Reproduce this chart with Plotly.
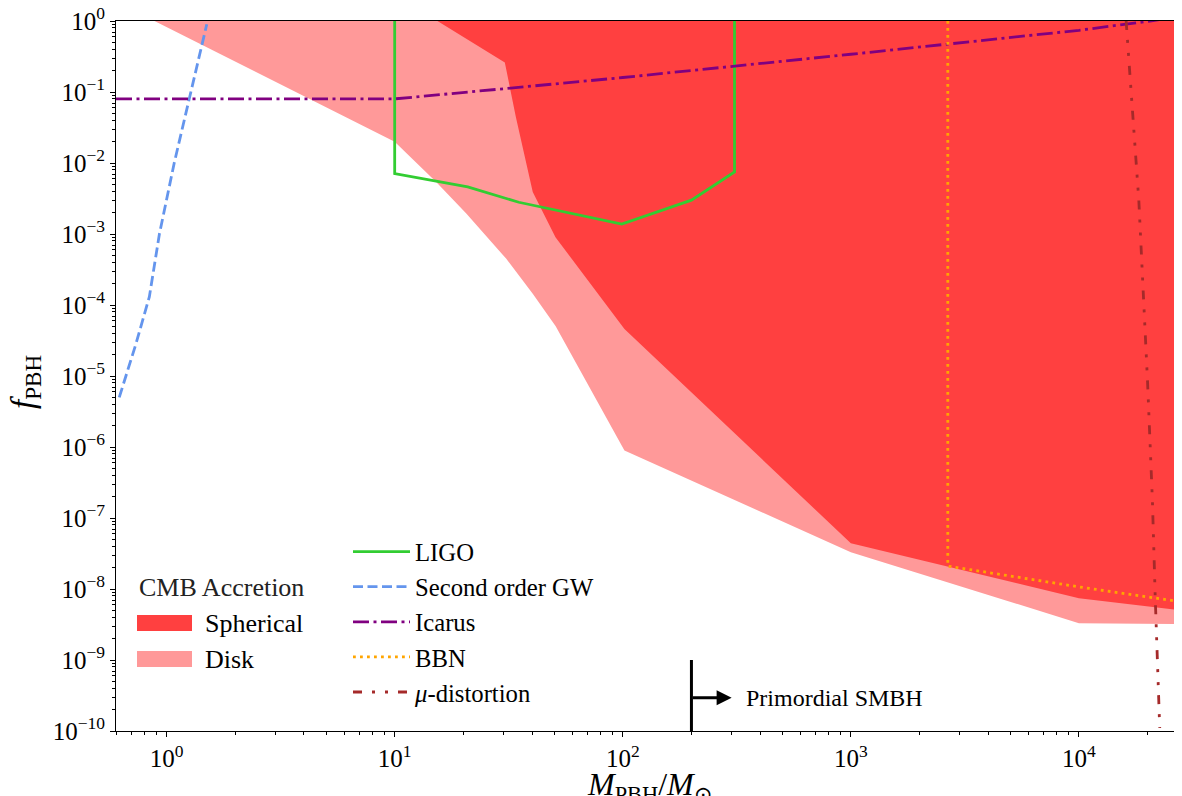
import numpy as np
import plotly.graph_objects as go

# ---------------- data ----------------
# CMB accretion, disk: lower edge of excluded region (upper edge is f=1)
disk_m = [0.885, 10, 15.2, 20.6, 30.8, 40.3, 50.8, 101.7, 1000, 1e4, 3e4]
disk_f = [1.0, 0.02, 5.4e-3, 1.94e-3, 4.5e-4, 1.44e-4, 5.0e-5, 8.9e-7, 3.3e-8, 3.3e-9, 3.2e-9]

# CMB accretion, spherical: lower edge of excluded region
sph_m = [15.4, 30.4, 34.0, 40.3, 50.7, 101.7, 1000, 1e4, 3e4]
sph_f = [1.0, 0.26, 0.044, 3.9e-3, 9.0e-4, 4.6e-5, 4.4e-8, 7.4e-9, 4.9e-9]

# LIGO
ligo_m = [10, 10, 20.9, 35, 99, 200, 309, 309]
ligo_f = [1.0, 7.1e-3, 4.6e-3, 2.8e-3, 1.38e-3, 3.0e-3, 7.5e-3, 1.0]

# Second order GW
gw_m = [0.62, 0.733, 0.84, 0.93, 1.08, 1.26, 1.5]
gw_f = [5.0e-6, 2.8e-5, 1.3e-4, 1.0e-3, 1.0e-2, 8.0e-2, 0.9]

# Icarus
ica_m = [0.6, 10, 30.8, 100, 1000, 1e4, 2.05e4, 3e4]
ica_f = [0.08, 0.08, 0.112, 0.16, 0.34, 0.74, 1.0, 1.2]

# BBN
bbn_m = [2660, 2660, 1e4, 3e4]
bbn_f = [1.0, 2.1e-8, 1.07e-8, 6.4e-9]

# mu-distortion
mu_m = [1.61e4, 1.83e4, 2.0e4, 2.1e4, 2.16e4, 2.26e4]
mu_f = [1.0, 3e-3, 8e-6, 1.7e-7, 7.6e-9, 1.1e-10]

# Primordial SMBH marker
smbh_m = 200
smbh_arrow_end = 300
smbh_text_m = 340
smbh_bar_f = [1e-10, 1e-9]
smbh_arrow_f = 2.95e-10

# axes
x_range = [0.6, 2.83e4]
y_range = [1e-10, 1.0]
x_tickvals = [1, 10, 100, 1000, 10000]
x_ticktext = ["10<sup>0</sup>", "10<sup>1</sup>", "10<sup>2</sup>", "10<sup>3</sup>", "10<sup>4</sup>"]
y_tickvals = [10.0 ** e for e in range(-10, 1)]
y_ticktext = ["10<sup>\u2212%d</sup>" % (-e) if e < 0 else "10<sup>0</sup>" for e in range(-10, 1)]
x_minor = [s * 10.0 ** e for e in range(-1, 5) for s in range(2, 10)]
y_minor = [s * 10.0 ** e for e in range(-10, 0) for s in range(2, 10)]
x_title = "<i>M</i><sub>PBH</sub>/<i>M</i><sub>\u2299</sub>"
y_title = "<i>f</i><sub>PBH</sub>"

# ---------------- styles ----------------
C_SPH = "#ff4040"
C_DISK = "#ff9999"
FONT = "Liberation Serif"
OFF = 8                      # default page body margin of the html page
W, H = 1182 - OFF, 796 - OFF
L, R, T, B = 116 - OFF, 0, 21 - OFF, 65
PW, PH = W - L - R, H - T - B


def px_x(px):
    """window pixel -> paper x"""
    return (px - OFF - L) / PW


def px_y(py):
    """window pixel -> paper y"""
    return (OFF + H - B - py) / PH


fig = go.Figure()

# filled regions
fig.add_trace(go.Scatter(
    x=disk_m + [disk_m[-1], disk_m[0]], y=disk_f + [1.0, 1.0],
    fill="toself", fillcolor=C_DISK, line=dict(width=0), mode="lines",
    showlegend=False, hoverinfo="skip"))
fig.add_trace(go.Scatter(
    x=sph_m + [sph_m[-1]], y=sph_f + [1.0],
    fill="toself", fillcolor=C_SPH, line=dict(width=0), mode="lines",
    showlegend=False, hoverinfo="skip"))

# constraint curves
LW = 2.8
fig.add_trace(go.Scatter(x=ligo_m, y=ligo_f, mode="lines", name="LIGO",
                         line=dict(color="#32cd32", width=LW)))
fig.add_trace(go.Scatter(x=gw_m, y=gw_f, mode="lines", name="Second order GW",
                         line=dict(color="#6495ed", width=LW, dash="10px,4.5px")))
fig.add_trace(go.Scatter(x=ica_m, y=ica_f, mode="lines", name="Icarus",
                         line=dict(color="#800080", width=LW, dash="16px,4.5px,3px,4.5px")))
fig.add_trace(go.Scatter(x=bbn_m, y=bbn_f, mode="lines", name="BBN",
                         line=dict(color="#ffa500", width=LW, dash="2.8px,4.2px")))
fig.add_trace(go.Scatter(x=mu_m, y=mu_f, mode="lines", name="<i>\u03bc</i>-distortion",
                         line=dict(color="#a52a2a", width=LW,
                                   dash="9px,10px,3px,10px,3px,10px")))

# primordial SMBH bar
fig.add_trace(go.Scatter(x=[smbh_m, smbh_m], y=smbh_bar_f, mode="lines",
                         line=dict(color="black", width=3), showlegend=False,
                         hoverinfo="skip"))

annotations = [
    dict(x=np.log10(smbh_arrow_end), y=np.log10(smbh_arrow_f), xref="x", yref="y",
         ax=np.log10(smbh_m), ay=np.log10(smbh_arrow_f), axref="x", ayref="y",
         text="", showarrow=True, arrowhead=2, arrowsize=1, arrowwidth=3,
         arrowcolor="black", standoff=0, startstandoff=0),
    dict(x=np.log10(smbh_text_m), y=np.log10(smbh_arrow_f), xref="x", yref="y",
         text="Primordial SMBH", showarrow=False, xanchor="left", yanchor="middle",
         font=dict(size=24, family=FONT, color="black")),
    # axis titles
    dict(x=0.5, y=px_y(787), xref="paper", yref="paper", text=x_title,
         showarrow=False, xanchor="center", yanchor="middle",
         font=dict(size=32, family=FONT, color="black")),
    dict(x=px_x(25), y=px_y(382), xref="paper", yref="paper", text=y_title,
         showarrow=False, xanchor="center", yanchor="middle", textangle=-90,
         font=dict(size=33, family=FONT, color="black")),
]

# CMB accretion legend (patch legend)
cmb_items = [("Spherical", C_SPH, 623), ("Disk", C_DISK, 659)]
shapes = []
annotations.append(dict(x=px_x(137), y=px_y(587), xref="paper", yref="paper",
                        text="CMB Accretion", showarrow=False, xanchor="left",
                        yanchor="middle", font=dict(size=26, family=FONT, color="#222")))
for name, col, yc in cmb_items:
    shapes.append(dict(type="rect", xref="paper", yref="paper",
                       x0=px_x(137), x1=px_x(192), y0=px_y(yc - 8), y1=px_y(yc + 8),
                       fillcolor=col, line=dict(width=0)))
    annotations.append(dict(x=px_x(203), y=px_y(yc), xref="paper", yref="paper",
                            text=name, showarrow=False, xanchor="left", yanchor="middle",
                            font=dict(size=26, family=FONT, color="black")))

axis_common = dict(
    type="log", showgrid=False, zeroline=False, showline=True, linecolor="black",
    linewidth=1, ticks="outside", ticklen=5, tickwidth=1, tickcolor="black",
    tickmode="array", tickfont=dict(size=25, family=FONT, color="black"),
    ticklabeloverflow="allow", automargin=False,
)

fig.update_layout(
    width=W, height=H,
    margin=dict(l=L, r=R, t=T, b=B, autoexpand=False),
    plot_bgcolor="white", paper_bgcolor="white",
    font=dict(family=FONT, color="black", size=25),
    xaxis=dict(axis_common, range=[np.log10(x_range[0]), np.log10(x_range[1])],
               tickvals=x_tickvals, ticktext=x_ticktext, mirror=True,
               minor=dict(tickmode="array", tickvals=x_minor, ticks="outside",
                          ticklen=3, tickwidth=0.8, tickcolor="black", showgrid=False)),
    yaxis=dict(axis_common, range=[np.log10(y_range[0]), np.log10(y_range[1])],
               tickvals=y_tickvals, ticktext=y_ticktext, mirror=False,
               minor=dict(tickmode="array", tickvals=y_minor, ticks="outside",
                          ticklen=3, tickwidth=0.8, tickcolor="black", showgrid=False)),
    legend=dict(x=px_x(348), y=px_y(529), xanchor="left", yanchor="top",
                bgcolor="rgba(0,0,0,0)", borderwidth=0, itemwidth=57,
                font=dict(size=24.7, family=FONT, color="black"), tracegroupgap=0),
    shapes=shapes,
    annotations=annotations,
)

fig.write_html("out.html")
